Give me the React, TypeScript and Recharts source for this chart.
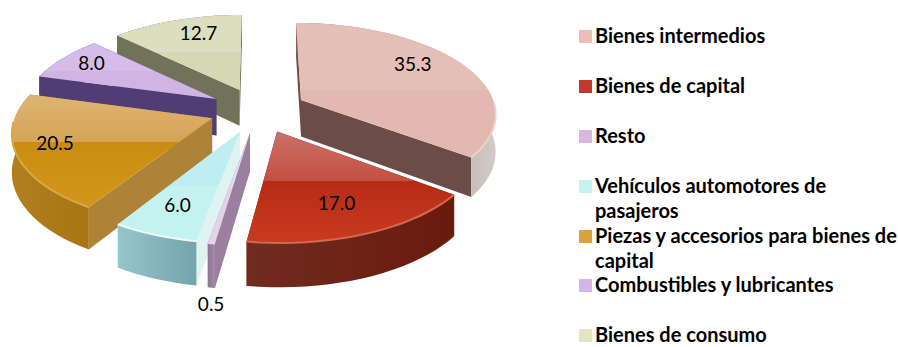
import React from "react";
import { Legend, Pie, PieChart } from "recharts";

const categories = [
  "Bienes intermedios",
  "Bienes de capital",
  "Resto",
  "Vehículos automotores de pasajeros",
  "Piezas y accesorios para bienes de capital",
  "Combustibles y lubricantes",
  "Bienes de consumo",
];
const shares = [35.3, 17.0, 0.5, 6.0, 20.5, 8.0, 12.7];

// marker, top (back / front of the sheen band), cut face, outer wall, front rim
const shading = [
  { marker: "#eebdb6", top: ["#e5beb7", "#e5beb7", "#e2b8b0", "#e2b8b0"], band: 0.5, cut: "#6b4c49", wall: ["#7d5f5b", "#d4cac6"], rim: "#ead2cc" },
  { marker: "#c5392b", top: ["#c9716a", "#c4503f", "#b72b14", "#c93a22"], band: 0.44, cut: "#7a2a1c", wall: ["#702c20", "#6a1a0c"], rim: "#d26a50" },
  { marker: "#d9b6e2", top: ["#e8daee", "#e8daee", "#e3d2ea", "#e3d2ea"], band: 0.5, cut: "#9a7f9f", wall: ["#8f7595", "#a58aa8"], rim: "#e3d2ea" },
  { marker: "#c2f3f1", top: ["#bdeef2", "#bdeef2", "#c4f2f0", "#c4f2f0"], band: 0.5, cut: "#dff3f3", wall: ["#96c6cb", "#74a4ac"], rim: "#eefcf8" },
  { marker: "#dca23a", top: ["#deb474", "#d6a455", "#c98d12", "#d2961d"], band: 0.42, cut: "#ae8338", wall: ["#b07f20", "#a87512"], rim: "#d8a844" },
  { marker: "#d4b5e8", top: ["#d6bce8", "#d6bce8", "#d0b4e4", "#d0b4e4"], band: 0.5, cut: "#523c74", wall: ["#523c74", "#523c74"], rim: "#d0b4e4" },
  { marker: "#e4e6c2", top: ["#dcdec0", "#dcdec0", "#d6d8b4", "#d6d8b4"], band: 0.5, cut: "#70735a", wall: ["#70735a", "#70735a"], rim: "#d6d8b4" },
];

const labelShift = [
  [-10, -9],
  [-6, -3],
  [-11, 91],
  [-1, -2],
  [-12, -2],
  [-8, -5],
  [8, -4],
];

// drawn back to front, so the table runs the other way round the pie
const table = categories
  .map((name, idx) => ({ name, idx, value: shares[idx], fill: shading[idx].marker }))
  .reverse();

const TILT = 0.462;
const PERSPECTIVE = 0.1345;
const EXPLODE = 0.25;
const DEPTH = 37;

const rad = (a: number) => (a * Math.PI) / 180;

const projector = (cx: number, cy: number, r: number) => (u: number, v: number) => {
  const s = 1 / (1 - PERSPECTIVE * v);
  return { x: cx + r * u * s, y: cy + r * TILT * v * s, s };
};

const toPath = (pts: { x: number; y: number }[]) =>
  "M" + pts.map((p) => `${p.x.toFixed(1)},${p.y.toFixed(1)}`).join("L") + "Z";

function Slice3D(props: any) {
  const { cx, cy, outerRadius, startAngle, endAngle, midAngle } = props;
  const idx = props.idx ?? props.payload?.idx;
  const look = shading[idx];
  const p = projector(cx, cy, outerRadius);
  const mid = midAngle ?? (startAngle + endAngle) / 2;
  const au = EXPLODE * Math.cos(rad(mid));
  const av = -EXPLODE * Math.sin(rad(mid));
  const apex = p(au, av);

  const steps = Math.max(2, Math.ceil(Math.abs(endAngle - startAngle) / 3));
  const arc = [];
  for (let i = 0; i <= steps; i++) {
    const a = startAngle + ((endAngle - startAngle) * i) / steps;
    arc.push(p(au + Math.cos(rad(a)), av - Math.sin(rad(a))));
  }
  const drop = (q: { x: number; y: number; s: number }) => ({ x: q.x, y: q.y + DEPTH * q.s, s: q.s });
  const first = arc[0];
  const last = arc[arc.length - 1];
  const topId = `top-${idx}`;
  const wallId = `wall-${idx}`;
  const rimPts = arc.filter((q) => q.y > apex.y);

  return (
    <g>
      <defs>
        <linearGradient id={topId} x1="0" y1="0" x2="0" y2="1">
          <stop offset="0" stopColor={look.top[0]} />
          <stop offset={look.band} stopColor={look.top[1]} />
          <stop offset={look.band} stopColor={look.top[2]} />
          <stop offset="1" stopColor={look.top[3]} />
        </linearGradient>
        <linearGradient id={wallId} x1="0" y1="0" x2="1" y2="0">
          <stop offset="0" stopColor={look.wall[0]} />
          <stop offset="1" stopColor={look.wall[1]} />
        </linearGradient>
      </defs>
      <path d={toPath([apex, first, drop(first), drop(apex)])} fill={look.cut} />
      <path d={toPath([apex, last, drop(last), drop(apex)])} fill={look.cut} />
      <path d={toPath([...arc, ...arc.map(drop).reverse()])} fill={`url(#${wallId})`} />
      <path d={toPath([apex, ...arc])} fill={`url(#${topId})`} />
      {rimPts.length > 1 && (
        <polyline
          points={rimPts.map((q) => `${q.x.toFixed(1)},${q.y.toFixed(1)}`).join(" ")}
          fill="none"
          stroke={look.rim}
          strokeWidth={2}
        />
      )}
    </g>
  );
}

function sliceLabel(props: any) {
  const { cx, cy, outerRadius, midAngle, value } = props;
  const idx = props.idx ?? props.payload?.idx;
  const p = projector(cx, cy, outerRadius);
  const f = EXPLODE + 0.75;
  const spot = p(f * Math.cos(rad(midAngle)), -f * Math.sin(rad(midAngle)));
  return (
    <text
      x={spot.x + labelShift[idx][0]}
      y={spot.y + labelShift[idx][1]}
      textAnchor="middle"
      dominantBaseline="central"
      fontFamily="Lato"
      fontSize={19}
      fill="#000"
    >
      {Number(value).toFixed(1)}
    </text>
  );
}

function LegendList({ payload }: any) {
  const rows = [...(payload ?? [])].sort(
    (a: any, b: any) => categories.indexOf(a.value) - categories.indexOf(b.value)
  );
  return (
    <div style={{ fontFamily: "Lato", fontWeight: 700, fontSize: 20, lineHeight: "25px", color: "#000" }}>
      {rows.map((row: any) => (
        <div key={row.value} style={{ position: "relative", height: 49.9, paddingLeft: 25, boxSizing: "border-box" }}>
          <span
            style={{
              position: "absolute",
              left: 9,
              top: 7,
              width: 13,
              height: 13,
              background: row.color,
            }}
          />
          {row.value}
        </div>
      ))}
    </div>
  );
}

export default function App() {
  return (
    <div style={{ position: "absolute", left: 0, top: 0, width: 898, height: 347, background: "#fff" }}>
      <PieChart width={898} height={347} margin={{ top: 0, right: 0, bottom: 0, left: 0 }}>
        <Pie
          data={table}
          dataKey="value"
          nameKey="name"
          cx={258}
          cy={110}
          innerRadius={0}
          outerRadius={195}
          startAngle={90}
          endAngle={450}
          stroke="none"
          shape={Slice3D}
          label={sliceLabel}
          labelLine={false}
          isAnimationActive={false}
        />
        <Legend
          layout="vertical"
          align="right"
          verticalAlign="top"
          content={<LegendList />}
          wrapperStyle={{ left: 570, top: 23, width: 328 }}
        />
      </PieChart>
    </div>
  );
}
